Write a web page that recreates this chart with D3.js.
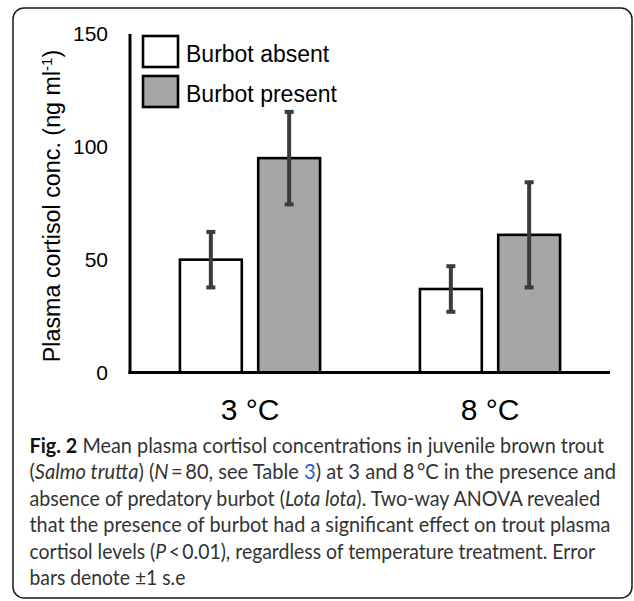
<!DOCTYPE html>
<html>
<head>
<meta charset="utf-8">
<script src="https://cdn.jsdelivr.net/npm/d3@7"></script>
<style>
  html, body { margin: 0; padding: 0; background: #fff; }
  svg { display: block; }
</style>
</head>
<body>
<svg id="chart" width="634" height="601"></svg>
<script>
// ---- data ----
const categories = ["3 °C", "8 °C"];
const seriesNames = ["Burbot absent", "Burbot present"];
const absentMeans = [50, 37];
const absentSE = [12.3, 10.1];
const presentMeans = [95, 61];
const presentSE = [20.5, 23.3];
const yTicks = [0, 50, 100, 150];
const seriesFill = ["#ffffff", "#a6a6a6"];

const rows = categories.map((c, i) => ({
  cat: c,
  values: [
    { series: seriesNames[0], mean: absentMeans[i], se: absentSE[i] },
    { series: seriesNames[1], mean: presentMeans[i], se: presentSE[i] }
  ]
}));

const svg = d3.select("#chart");
const font = "'Liberation Sans', Arial, sans-serif";

// frame
svg.append("rect")
  .attr("x", 13).attr("y", 8).attr("width", 619).attr("height", 590)
  .attr("rx", 11).attr("ry", 11)
  .attr("fill", "none").attr("stroke", "#1a1a1a").attr("stroke-width", 1.5);

// scales
const x0 = d3.scaleBand().domain(categories).range([130, 610]).padding(0);
const x1 = d3.scaleBand().domain(seriesNames)
  .range([x0.bandwidth() * 0.208, x0.bandwidth() * 0.792]).paddingInner(0.21);
const y = d3.scaleLinear().domain([0, 150]).range([372.5, 34]);
const color = d3.scaleOrdinal().domain(seriesNames).range(seriesFill);

// y axis tick labels
const yAxis = svg.append("g").attr("transform", "translate(130,0)")
  .call(d3.axisLeft(y).tickValues(yTicks).tickSize(0).tickPadding(22).tickFormat(d3.format("d")));
yAxis.select(".domain").remove();
yAxis.selectAll("text").attr("font-family", font).attr("font-size", 21).attr("fill", "#000");

// bars
const groups = svg.append("g").selectAll("g").data(rows).join("g")
  .attr("transform", d => `translate(${x0(d.cat)},0)`);

groups.selectAll("rect").data(d => d.values).join("rect")
  .attr("x", d => x1(d.series))
  .attr("y", d => y(d.mean))
  .attr("width", x1.bandwidth())
  .attr("height", d => y(0) - y(d.mean))
  .attr("fill", d => color(d.series))
  .attr("stroke", "#000").attr("stroke-width", 2.6);

// error bars
const eb = groups.selectAll("g.err").data(d => d.values).join("g").attr("class", "err");
eb.append("line")
  .attr("x1", d => x1(d.series) + x1.bandwidth() / 2)
  .attr("x2", d => x1(d.series) + x1.bandwidth() / 2)
  .attr("y1", d => y(d.mean + d.se))
  .attr("y2", d => y(d.mean - d.se))
  .attr("stroke", "#3c3c3c").attr("stroke-width", 4);
[1, -1].forEach(s => {
  eb.append("line")
    .attr("x1", d => x1(d.series) + x1.bandwidth() / 2 - 4.5)
    .attr("x2", d => x1(d.series) + x1.bandwidth() / 2 + 4.5)
    .attr("y1", d => y(d.mean + s * d.se))
    .attr("y2", d => y(d.mean + s * d.se))
    .attr("stroke", "#3c3c3c").attr("stroke-width", 4);
});

// axis lines
svg.append("line").attr("x1", 130).attr("x2", 130).attr("y1", y(150)).attr("y2", y(0) + 1.5)
  .attr("stroke", "#000").attr("stroke-width", 3);
svg.append("line").attr("x1", 128.5).attr("x2", 610).attr("y1", y(0)).attr("y2", y(0))
  .attr("stroke", "#000").attr("stroke-width", 3);

// category labels
const xAxis = svg.append("g").attr("transform", `translate(0,${y(0)})`)
  .call(d3.axisBottom(x0).tickSize(0).tickPadding(26));
xAxis.select(".domain").remove();
xAxis.selectAll("text").attr("font-family", font).attr("font-size", 30).attr("fill", "#000");

// y axis title
const yt = svg.append("text")
  .attr("transform", "translate(59.5,206) rotate(-90)")
  .attr("text-anchor", "middle")
  .attr("font-family", font).attr("font-size", 23.3).attr("fill", "#000");
yt.append("tspan").text("Plasma cortisol conc. (ng ml");
yt.append("tspan").attr("baseline-shift", "super").attr("font-size", 15).text("-1");
yt.append("tspan").text(")");

// legend
const leg = svg.append("g").selectAll("g").data(seriesNames).join("g")
  .attr("transform", (d, i) => `translate(143,${36 + i * 40})`);
leg.append("rect").attr("width", 35).attr("height", 31)
  .attr("fill", d => color(d)).attr("stroke", "#000").attr("stroke-width", 2.6);
leg.append("text").attr("x", 43).attr("y", 25.5)
  .attr("font-family", font).attr("font-size", 23).attr("fill", "#000")
  .text(d => d);

// caption
const capFont = "Lato, 'Open Sans', sans-serif";
const capLines = [
  { w: 575, parts: [["b", "Fig. 2"], ["n", " Mean plasma cortisol concentrations in juvenile brown trout"]] },
  { w: 587, parts: [["n", "("], ["i", "Salmo trutta"], ["n", ") ("], ["i", "N"], ["n", "\u2009=\u200980, see Table "], ["l", "3"], ["n", ") at 3 and 8\u2009°C in the presence and"]] },
  { w: 571, parts: [["n", "absence of predatory burbot ("], ["i", "Lota lota"], ["n", "). Two-way ANOVA revealed"]] },
  { w: 581, parts: [["n", "that the presence of burbot had a significant effect on trout plasma"]] },
  { w: 566, parts: [["n", "cortisol levels ("], ["i", "P"], ["n", "\u2009<\u20090.01), regardless of temperature treatment. Error"]] },
  { w: 156, parts: [["n", "bars denote ±1 s.e"]] }
];
const capBase = [452.7, 479.3, 506, 531.7, 559.3, 585];
capLines.forEach((ln, i) => {
  const g = svg.append("g");
  const t = g.append("text")
    .attr("x", 0).attr("y", 0)
    .attr("font-family", capFont).attr("font-size", 21.5).attr("fill", "#333");
  ln.parts.forEach(p => {
    const s = t.append("tspan").text(p[1]);
    if (p[0] === "b") s.attr("font-weight", "bold").attr("fill", "#111");
    if (p[0] === "i") s.attr("font-style", "italic");
    if (p[0] === "l") s.attr("fill", "#2a5bd7");
  });
  const natural = t.node().getComputedTextLength();
  const k = natural > 0 ? ln.w / natural : 1;
  g.attr("transform", `translate(29.5,${capBase[i]}) scale(${k},1)`);
});
</script>
</body>
</html>
